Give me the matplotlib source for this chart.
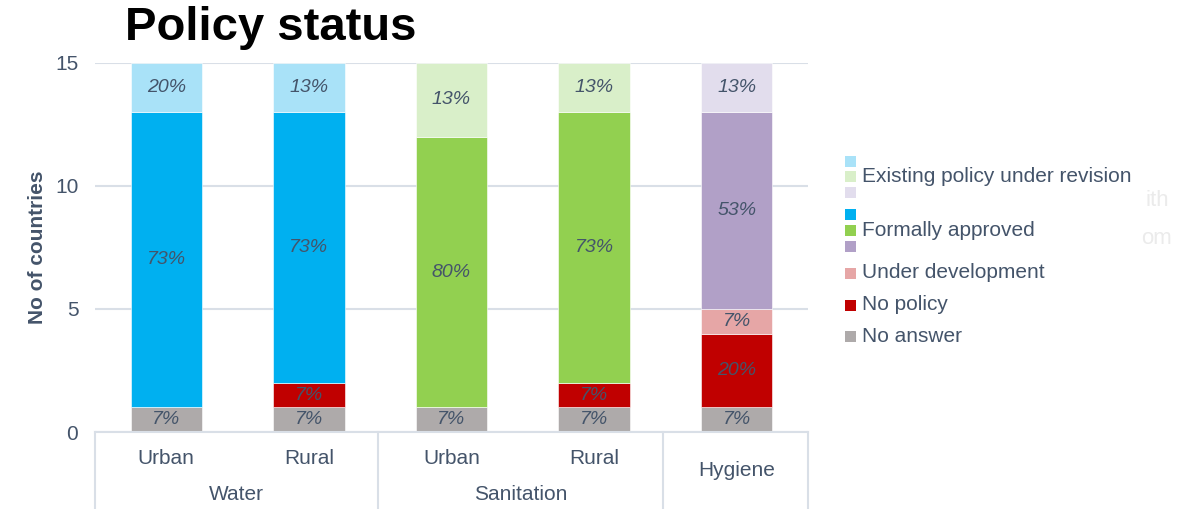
import matplotlib
matplotlib.use("Agg")
import matplotlib.pyplot as plt
from matplotlib.patches import Rectangle
from matplotlib.lines import Line2D

plt.rcParams['font.family'] = ['Liberation Sans', 'DejaVu Sans']

# ---- data ----
bars = ['Urban', 'Rural', 'Urban', 'Rural', 'Hygiene']
groups = ['Water', 'Sanitation']
no_answer = [1, 1, 1, 1, 1]
no_policy = [0, 1, 0, 1, 3]
under_dev = [0, 0, 0, 0, 1]
approved = [12, 11, 11, 11, 8]
revision = [2, 2, 3, 2, 2]

no_answer_lbl = ['7%', '7%', '7%', '7%', '7%']
no_policy_lbl = ['', '7%', '', '7%', '20%']
under_dev_lbl = ['', '', '', '', '7%']
approved_lbl = ['73%', '73%', '80%', '73%', '53%']
revision_lbl = ['20%', '13%', '13%', '13%', '13%']

C_BLUE, C_LBLUE = '#00b0f0', '#a9e2f8'
C_GREEN, C_LGREEN = '#92d050', '#d9efc9'
C_PURPLE, C_LPURPLE = '#b1a0c7', '#e2dded'
C_PINK, C_RED, C_GRAY = '#e6a6a6', '#c00000', '#aeaaaa'
TXT = '#44546a'
GRID = '#d9dfe7'

approved_colors = [C_BLUE, C_BLUE, C_GREEN, C_GREEN, C_PURPLE]
revision_colors = [C_LBLUE, C_LBLUE, C_LGREEN, C_LGREEN, C_LPURPLE]

W, H = 1187, 509
fig = plt.figure(figsize=(W / 100, H / 100), dpi=100)
ax = fig.add_axes([95 / W, 1 - 432 / H, (808 - 95) / W, (432 - 63) / H])

x = list(range(len(bars)))
series = [
    (no_answer, [C_GRAY] * 5, no_answer_lbl),
    (no_policy, [C_RED] * 5, no_policy_lbl),
    (under_dev, [C_PINK] * 5, under_dev_lbl),
    (approved, approved_colors, approved_lbl),
    (revision, revision_colors, revision_lbl),
]
bottom = [0] * 5
for vals, cols, lbls in series:
    ax.bar(x, vals, bottom=bottom, width=0.5, color=cols, edgecolor='white',
           linewidth=0.4, zorder=3)
    for i, (v, l) in enumerate(zip(vals, lbls)):
        if v > 0 and l:
            ax.text(i, bottom[i] + v / 2, l, ha='center', va='center',
                    fontsize=14, style='italic', color=TXT, zorder=4)
    bottom = [b + v for b, v in zip(bottom, vals)]

ax.set_xlim(-0.5, 4.5)
ax.set_ylim(0, 15)
ax.set_yticks([0, 5, 10, 15])
ax.tick_params(axis='y', length=0, labelsize=15, labelcolor=TXT, pad=12)
ax.set_xticks([])
for s in ax.spines.values():
    s.set_visible(False)
ax.grid(axis='y', color=GRID, linewidth=1.5, zorder=0)
ax.set_ylabel('No of countries', fontsize=15, fontweight='bold', color=TXT, labelpad=6)

# category table below axis
def fx(px):
    return px / W

def fy(py):
    return 1 - py / H

fig.add_artist(Line2D([fx(95), fx(808)], [fy(432), fy(432)], color=GRID, lw=1.5))
for px in [95, 378, 663, 808]:
    fig.add_artist(Line2D([fx(px), fx(px)], [fy(432), fy(509)], color=GRID, lw=1.5))

for i, name in enumerate(bars):
    cx = ax.transData.transform((i, 0))[0] / fig.dpi / fig.get_figwidth()
    yy = fy(470) if name == 'Hygiene' else fy(458)
    fig.text(cx, yy, name, ha='center', va='center', fontsize=15, color=TXT)
for gname, (a, b) in zip(groups, [(95, 378), (378, 663)]):
    fig.text(fx((a + b) / 2), fy(494), gname, ha='center', va='center', fontsize=15, color=TXT)

# title
fig.text(fx(125), fy(28), 'Policy status', ha='left', va='center', fontsize=34,
         fontweight='bold', color='black')

# legend (manual)
sq = 11
def square(py, col):
    fig.add_artist(Rectangle((fx(845), fy(py + sq / 2)), sq / W, sq / H,
                             facecolor=col, edgecolor='none', transform=fig.transFigure))

LFS = 15
for py, col in [(161, C_LBLUE), (176, C_LGREEN), (192, C_LPURPLE)]:
    square(py, col)
fig.text(fx(862), fy(176), 'Existing policy under revision', ha='left', va='center',
         fontsize=LFS, color=TXT)
for py, col in [(215, C_BLUE), (230, C_GREEN), (246, C_PURPLE)]:
    square(py, col)
fig.text(fx(862), fy(230), 'Formally approved', ha='left', va='center', fontsize=LFS, color=TXT)
square(273, C_PINK)
fig.text(fx(862), fy(273), 'Under development', ha='left', va='center', fontsize=LFS, color=TXT)
square(305, C_RED)
fig.text(fx(862), fy(305), 'No policy', ha='left', va='center', fontsize=LFS, color=TXT)
square(336, C_GRAY)
fig.text(fx(862), fy(336), 'No answer', ha='left', va='center', fontsize=LFS, color=TXT)

# faint ghost text at the right edge (as in the source image)
fig.text(fx(1157), fy(200), 'ith', ha='center', va='center', fontsize=16, color='#ebebeb')
fig.text(fx(1157), fy(238), 'om', ha='center', va='center', fontsize=16, color='#ebebeb')

fig.savefig('out.png', dpi=100, facecolor='white')
